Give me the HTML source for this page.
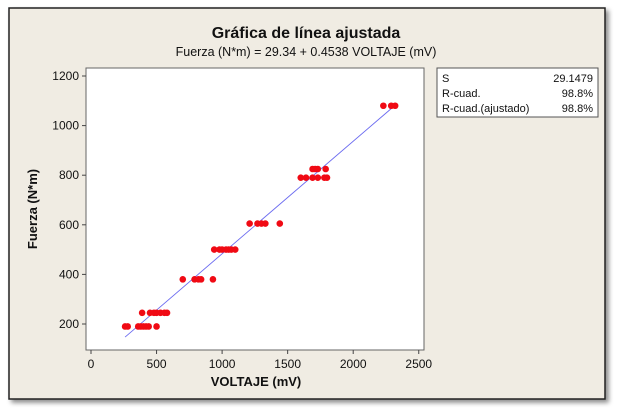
<!DOCTYPE html>
<html><head><meta charset="utf-8"><style>
body{margin:0;width:627px;height:415px;background:#fff;font-family:"Liberation Sans",sans-serif;overflow:hidden}
svg{display:block}
</style></head><body>
<svg width="627" height="415" id="chart">
<defs><filter id="sh" x="-5%" y="-5%" width="115%" height="115%"><feDropShadow dx="3" dy="3" stdDeviation="2.5" flood-color="#000" flood-opacity="0.45"/></filter></defs>
<rect x="9" y="8" width="596" height="391" fill="#f0ece3" stroke="#222" stroke-width="1.5" filter="url(#sh)"/>
<text x="306" y="38" text-anchor="middle" font-size="16" font-weight="bold" fill="#111">Gráfica de línea ajustada</text>
<text x="306" y="56" text-anchor="middle" font-size="12.5" fill="#111">Fuerza (N*m) =  29.34 + 0.4538 VOLTAJE (mV)</text>
<rect x="86" y="68" width="338" height="282" fill="#fff" stroke="#666" stroke-width="1"/>
<g id="axes"></g>
<g id="marks"></g>
<text x="256" y="386" text-anchor="middle" font-size="13" font-weight="bold" fill="#111">VOLTAJE (mV)</text>
<text transform="translate(37,209) rotate(-90)" text-anchor="middle" font-size="13" font-weight="bold" fill="#111">Fuerza (N*m)</text>
<g>
<rect x="437" y="68" width="161" height="49" fill="#fff" stroke="#555"/>
<text x="442" y="82" font-size="11" fill="#111">S</text><text x="593" y="82" font-size="11" text-anchor="end" fill="#111">29.1479</text>
<text x="442" y="97" font-size="11" fill="#111">R-cuad.</text><text x="593" y="97" font-size="11" text-anchor="end" fill="#111">98.8%</text>
<text x="442" y="112" font-size="11" fill="#111">R-cuad.(ajustado)</text><text x="593" y="112" font-size="11" text-anchor="end" fill="#111">98.8%</text>
</g>
</svg>
<script>
const voltaje=[260,280,360,380,400,420,440,500, 390,450,480,500,530,560,580, 700,790,820,840,930, 940,980,1000,1030,1050,1070,1100, 1210,1270,1300,1330,1440, 1600,1640,1690,1730,1780,1800, 1690,1710,1730,1790, 2230,2290,2320];
const fuerza=[190,190,190,190,190,190,190,190, 245,245,245,245,245,245,245, 380,380,380,380,380, 500,500,500,500,500,500,500, 605,605,605,605,605, 790,790,790,790,790,790, 825,825,825,825, 1080,1080,1080];
const xTicks=[0,500,1000,1500,2000,2500];
const yTicks=[200,400,600,800,1000,1200];
const intercept=29.34, slope=0.4538;
const NS="http://www.w3.org/2000/svg";
const sx=v=>91+v*0.1311;
const sy=v=>324-(v-200)*0.248;
const axes=document.getElementById('axes'),marks=document.getElementById('marks');
function mk(t,a,p){const e=document.createElementNS(NS,t);for(const k in a)e.setAttribute(k,a[k]);p.appendChild(e);return e;}
xTicks.forEach(t=>{
 const l=mk('line',{x1:sx(t),x2:sx(t),y1:350,y2:354,stroke:'#444'},axes);
 
 
 const tx=mk('text',{x:sx(t),y:368,'text-anchor':'middle','font-size':12,fill:'#111'},axes);tx.textContent=t;
 
 
});
yTicks.forEach(t=>{
 const l=mk('line',{x1:82,x2:86,y1:sy(t),y2:sy(t),stroke:'#444'},axes);
 
 
 const tx=mk('text',{x:79,y:sy(t)+4,'text-anchor':'end','font-size':12,fill:'#111'},axes);tx.textContent=t;
 
 
});
const xmin=Math.min(...voltaje),xmax=Math.max(...voltaje);
const fl=mk('line',{x1:sx(xmin),y1:sy(intercept+slope*xmin),x2:sx(xmax),y2:sy(intercept+slope*xmax),stroke:'#6b6bf0','stroke-width':0.9},marks);


voltaje.forEach((v,i)=>{
 const c=mk('circle',{cx:sx(v),cy:sy(fuerza[i]),r:3.3,fill:'#f00a14'},marks);
 
 
});
</script>
</body></html>
